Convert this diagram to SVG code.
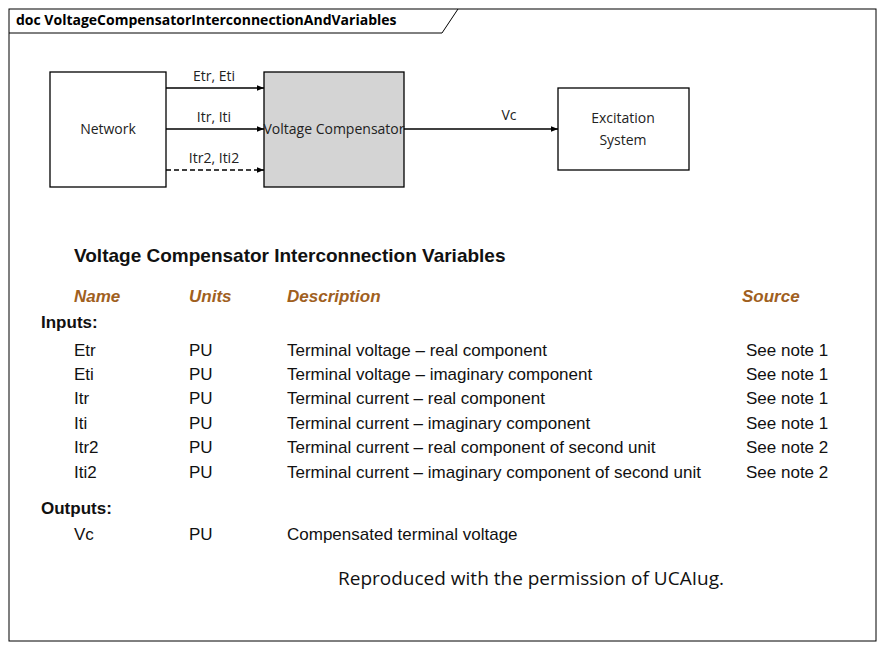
<svg xmlns="http://www.w3.org/2000/svg" width="884" height="651" viewBox="0 0 884 651">
<style>
.b{fill:#fff;stroke:#000;stroke-width:1.3}
.l{font-family:"Open Sans","Noto Sans",sans-serif;font-size:14px;fill:#222}
.t{font-family:"Liberation Sans",Arial,sans-serif;font-size:17px;fill:#111}
.h{font-family:"Liberation Sans",Arial,sans-serif;font-size:17px;font-style:italic;font-weight:bold;fill:#a0601e}
.c{stroke:#000;stroke-width:1.5;fill:none;marker-end:url(#a)}
</style>
<defs><marker id="a" viewBox="0 0 10 10" refX="10" refY="5" markerWidth="7" markerHeight="7" orient="auto" markerUnits="userSpaceOnUse"><path d="M0,1L10,5L0,9z" fill="#000"/></marker></defs>
<rect width="884" height="651" fill="#fff"/>
<rect x="9" y="9" width="867" height="632" fill="none" stroke="#000"/>
<path d="M9,33H442L458,9" fill="none" stroke="#000"/>
<text x="16" y="25" font-family="Open Sans,sans-serif" font-size="14" font-weight="bold">doc VoltageCompensatorInterconnectionAndVariables</text>
<g id="network"><rect class="b" x="50" y="72" width="116" height="115"/><text class="l" x="108" y="134" text-anchor="middle">Network</text></g>
<g id="vc"><rect class="b" style="fill:#d4d4d4" x="264" y="72" width="140" height="115"/><text class="l" x="334" y="134" text-anchor="middle">Voltage Compensator</text></g>
<g id="exc"><rect class="b" x="558" y="88" width="131" height="82"/><text class="l" x="623" y="123" text-anchor="middle">Excitation</text><text class="l" x="623" y="145" text-anchor="middle">System</text></g>
<g id="connectors">
<path class="c" d="M166,88H264"/><text class="l" x="214" y="81" text-anchor="middle">Etr, Eti</text>
<path class="c" d="M166,129H264"/><text class="l" x="214" y="122" text-anchor="middle">Itr, Iti</text>
<path class="c" style="stroke-dasharray:5,3" d="M166,170H264"/><text class="l" x="214" y="163" text-anchor="middle">Itr2, Iti2</text>
<path class="c" d="M404,129H558"/><text class="l" x="509" y="120" text-anchor="middle">Vc</text>
</g>
<text x="74" y="262" font-family="Liberation Sans,Arial,sans-serif" font-size="19" font-weight="bold" fill="#111">Voltage Compensator Interconnection Variables</text>
<text class="h" x="74" y="302">Name</text><text class="h" x="189" y="302">Units</text><text class="h" x="287" y="302">Description</text><text class="h" x="742" y="302">Source</text>
<text class="t" x="41" y="328" font-weight="bold">Inputs:</text>
<g class="t">
<text x="74" y="356">Etr</text><text x="189" y="356">PU</text><text x="287" y="356">Terminal voltage – real component</text><text x="746" y="356">See note 1</text>
<text x="74" y="380">Eti</text><text x="189" y="380">PU</text><text x="287" y="380">Terminal voltage – imaginary component</text><text x="746" y="380">See note 1</text>
<text x="74" y="404">Itr</text><text x="189" y="404">PU</text><text x="287" y="404">Terminal current – real component</text><text x="746" y="404">See note 1</text>
<text x="74" y="429">Iti</text><text x="189" y="429">PU</text><text x="287" y="429">Terminal current – imaginary component</text><text x="746" y="429">See note 1</text>
<text x="74" y="453">Itr2</text><text x="189" y="453">PU</text><text x="287" y="453">Terminal current – real component of second unit</text><text x="746" y="453">See note 2</text>
<text x="74" y="478">Iti2</text><text x="189" y="478">PU</text><text x="287" y="478">Terminal current – imaginary component of second unit</text><text x="746" y="478">See note 2</text>
<text x="74" y="540">Vc</text><text x="189" y="540">PU</text><text x="287" y="540">Compensated terminal voltage</text>
</g>
<text class="t" x="41" y="514" font-weight="bold">Outputs:</text>
<text x="531" y="585" text-anchor="middle" font-family="Open Sans,sans-serif" font-size="19" fill="#111">Reproduced with the permission of UCAIug.</text>
</svg>
